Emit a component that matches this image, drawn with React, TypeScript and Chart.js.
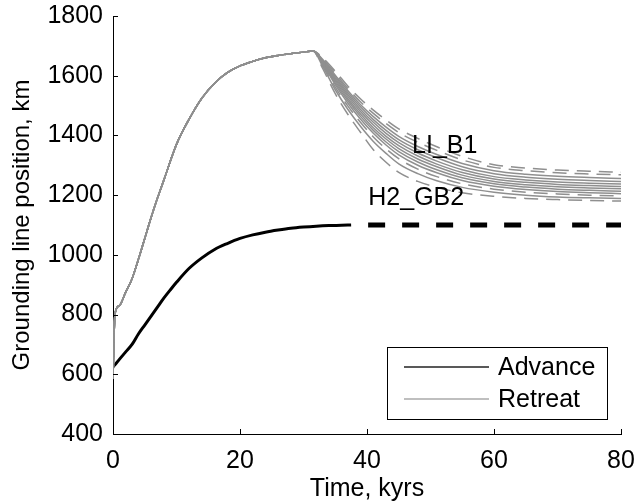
import React, { useEffect, useRef } from "react";
import { Chart, registerables } from "chart.js";

Chart.register(...registerables);

// ---------- data ----------
const xTicks = [0, 20, 40, 60, 80];
const yTicks = [400, 600, 800, 1000, 1200, 1400, 1600, 1800];

const advanceTime = [0, 0.3, 1, 2, 3, 4, 5, 6, 7, 8, 9, 10, 12, 14, 16, 18, 20, 22, 24, 26, 28, 30, 32, 34, 36, 37.5];
const advanceValues = [625, 632, 650, 675, 700, 735, 765, 795, 825, 855, 882, 908, 955, 990, 1018, 1038, 1055, 1067, 1076, 1083, 1089, 1093, 1096, 1098, 1099, 1100];

const steadyTime = [37.5, 80];
const steadyValues = [1100, 1100];

const retreatTime = [0, 0.3, 1, 2, 3, 4, 5, 6, 7, 8, 10, 12, 14, 16, 18, 20, 22, 24, 26, 28, 30, 31.5, 33, 35, 37, 39, 41, 43, 45, 48, 51, 55, 60, 65, 70, 75, 80];
const riseValues = [585, 800, 830, 875, 920, 985, 1055, 1125, 1190, 1250, 1370, 1455, 1525, 1575, 1610, 1633, 1648, 1660, 1668, 1674, 1679, 1683];

const retreatA = [1660, 1615, 1565, 1522, 1485, 1452, 1422, 1390, 1362, 1330, 1302, 1291, 1284, 1280, 1277];
const retreatB = [1657, 1608, 1557, 1512, 1474, 1440, 1410, 1377, 1350, 1318, 1293, 1282, 1275, 1271, 1268];
const retreatC = [1655, 1602, 1550, 1503, 1463, 1428, 1397, 1363, 1336, 1306, 1282, 1270, 1263, 1259, 1256];
const retreatD = [1652, 1597, 1543, 1495, 1453, 1417, 1386, 1352, 1325, 1295, 1272, 1260, 1253, 1249, 1246];
const retreatE = [1650, 1592, 1536, 1487, 1444, 1407, 1376, 1341, 1314, 1285, 1262, 1251, 1244, 1240, 1237];
const retreatF = [1648, 1587, 1530, 1479, 1435, 1397, 1366, 1331, 1304, 1276, 1254, 1243, 1236, 1232, 1229];
const retreatG = [1646, 1582, 1523, 1471, 1426, 1388, 1356, 1321, 1295, 1267, 1246, 1235, 1228, 1224, 1221];
const retreatH = [1643, 1576, 1516, 1463, 1417, 1378, 1346, 1311, 1285, 1258, 1238, 1227, 1220, 1216, 1213];
const retreatI = [1640, 1570, 1508, 1454, 1407, 1368, 1335, 1300, 1275, 1249, 1230, 1219, 1212, 1208, 1205];
const retreatJ = [1636, 1562, 1498, 1443, 1395, 1355, 1322, 1287, 1262, 1238, 1220, 1210, 1204, 1200, 1197];
const retreatK = [1632, 1553, 1487, 1430, 1380, 1340, 1305, 1272, 1248, 1226, 1210, 1200, 1194, 1191, 1189];
const retreatL = [1625, 1540, 1470, 1410, 1352, 1310, 1276, 1246, 1226, 1208, 1196, 1189, 1185, 1182, 1180];

const retreatDecays = [retreatA, retreatB, retreatC, retreatD, retreatE, retreatF, retreatG, retreatH, retreatI, retreatJ, retreatK, retreatL];
const retreatDashed = [true, true, false, false, false, false, false, false, false, true, false, true];

const noteTexts = ["LI_B1", "H2_GB2"];
const noteX = [47.1, 40.2];
const noteY = [1341, 1167];

const legendLabels = ["Advance", "Retreat"];

// ---------- styles ----------
const FONT = '"Liberation Sans", Arial, Helvetica, sans-serif';
const FONT_SIZE = 25;
const GRAY = "#8f8f8f";

const toPoints = (xs: number[], ys: number[]) => ys.map((y, i) => ({ x: xs[i], y }));

const inwardTicks = {
  id: "inwardTicks",
  afterDraw(chart: any) {
    const ctx = chart.ctx;
    const xs = chart.scales.x;
    const ys = chart.scales.y;
    const area = chart.chartArea;
    ctx.save();
    ctx.strokeStyle = "#000";
    ctx.lineWidth = 1;
    ctx.beginPath();
    xTicks.forEach((t) => {
      const px = Math.round(xs.getPixelForValue(t)) + 0.5;
      ctx.moveTo(px, area.bottom);
      ctx.lineTo(px, area.bottom - 5);
    });
    yTicks.forEach((t) => {
      const py = Math.round(ys.getPixelForValue(t)) + 0.5;
      ctx.moveTo(area.left, py);
      ctx.lineTo(area.left + 5, py);
    });
    ctx.stroke();
    ctx.restore();
  },
};

const notes = {
  id: "notes",
  afterDatasetsDraw(chart: any) {
    const ctx = chart.ctx;
    const xs = chart.scales.x;
    const ys = chart.scales.y;
    ctx.save();
    ctx.fillStyle = "#000";
    ctx.font = `${FONT_SIZE}px ${FONT}`;
    ctx.textAlign = "left";
    ctx.textBaseline = "alphabetic";
    noteTexts.forEach((t, i) => {
      ctx.fillText(t, xs.getPixelForValue(noteX[i]), ys.getPixelForValue(noteY[i]));
    });
    ctx.restore();
  },
};

const boxLegend = {
  id: "boxLegend",
  afterDraw(chart: any) {
    const ctx = chart.ctx;
    const a = chart.chartArea;
    const w = 220;
    const h = 72;
    const x0 = a.right - 14 - w;
    const y0 = a.bottom - 15 - h;
    ctx.save();
    ctx.fillStyle = "#fff";
    ctx.fillRect(x0, y0, w, h);
    ctx.strokeStyle = "#000";
    ctx.lineWidth = 1;
    ctx.strokeRect(x0 + 0.5, y0 + 0.5, w, h);
    const colors = ["#222", "#aaa"];
    legendLabels.forEach((lab, i) => {
      const cy = y0 + 20 + i * 32;
      ctx.strokeStyle = colors[i];
      ctx.lineWidth = 1.5;
      ctx.beginPath();
      ctx.moveTo(x0 + 17, cy);
      ctx.lineTo(x0 + 102, cy);
      ctx.stroke();
      ctx.fillStyle = "#000";
      ctx.font = `${FONT_SIZE}px ${FONT}`;
      ctx.textAlign = "left";
      ctx.textBaseline = "middle";
      ctx.fillText(lab, x0 + 111, cy + 1);
    });
    ctx.restore();
  },
};

const zeroPad = (s: any) => {
  s.paddingLeft = 0;
  s.paddingRight = 0;
  s.paddingTop = 0;
  s.paddingBottom = 0;
};

export default function App() {
  const ref = useRef<HTMLCanvasElement | null>(null);
  useEffect(() => {
    if (!ref.current) return;
    const datasets: any[] = [];
    retreatDecays.forEach((decay, i) => {
      datasets.push({
        label: "Retreat",
        data: toPoints(retreatTime, riseValues.concat(decay)),
        borderColor: GRAY,
        borderWidth: 1.5,
        borderDash: retreatDashed[i] ? [14, 8] : [],
        pointRadius: 0,
        cubicInterpolationMode: "monotone",
        fill: false,
      });
    });
    datasets.push({
      label: "Advance",
      data: toPoints(advanceTime, advanceValues),
      borderColor: "#000",
      borderWidth: 3,
      pointRadius: 0,
      cubicInterpolationMode: "monotone",
      fill: false,
    });
    datasets.push({
      label: "Advance steady",
      data: toPoints(steadyTime, steadyValues),
      borderColor: "#000",
      borderWidth: 5,
      borderDash: [17, 17],
      borderDashOffset: 17,
      pointRadius: 0,
      fill: false,
    });

    const chart = new Chart(ref.current, {
      type: "line",
      data: { datasets },
      options: {
        animation: false,
        responsive: false,
        devicePixelRatio: 1,
        layout: { padding: { top: 16, right: 14, left: 0, bottom: 0 } },
        plugins: { legend: { display: false }, tooltip: { enabled: false } },
        scales: {
          x: {
            type: "linear",
            min: 0,
            max: 80,
            afterBuildTicks: (s: any) => {
              s.ticks = xTicks.map((v) => ({ value: v }));
            },
            afterFit: (s: any) => {
              s.height = 70;
              zeroPad(s);
            },
            grid: { drawOnChartArea: false, drawTicks: false },
            border: { display: true, color: "#000", width: 1 },
            ticks: { color: "#000", font: { family: FONT, size: FONT_SIZE }, padding: 12, maxRotation: 0, callback: (v: any) => String(v) },
            title: { display: true, text: "Time, kyrs", color: "#000", font: { family: FONT, size: FONT_SIZE }, padding: { top: 0, bottom: 0 } },
          },
          y: {
            type: "linear",
            min: 400,
            max: 1800,
            afterBuildTicks: (s: any) => {
              s.ticks = yTicks.map((v) => ({ value: v }));
            },
            afterFit: (s: any) => {
              s.width = 113;
              zeroPad(s);
            },
            grid: { drawOnChartArea: false, drawTicks: false },
            border: { display: true, color: "#000", width: 1 },
            ticks: { color: "#000", font: { family: FONT, size: FONT_SIZE }, padding: 10, callback: (v: any) => String(v) },
            title: { display: true, text: "Grounding line position, km", color: "#000", font: { family: FONT, size: 24 }, padding: { top: 8, bottom: 0 } },
          },
        },
      },
      plugins: [notes, inwardTicks, boxLegend],
    });
    return () => chart.destroy();
  }, []);

  return (
    <div style={{ position: "absolute", left: 0, top: 0, width: 635, height: 504, background: "#fff" }}>
      <canvas ref={ref} width={635} height={504} />
    </div>
  );
}
